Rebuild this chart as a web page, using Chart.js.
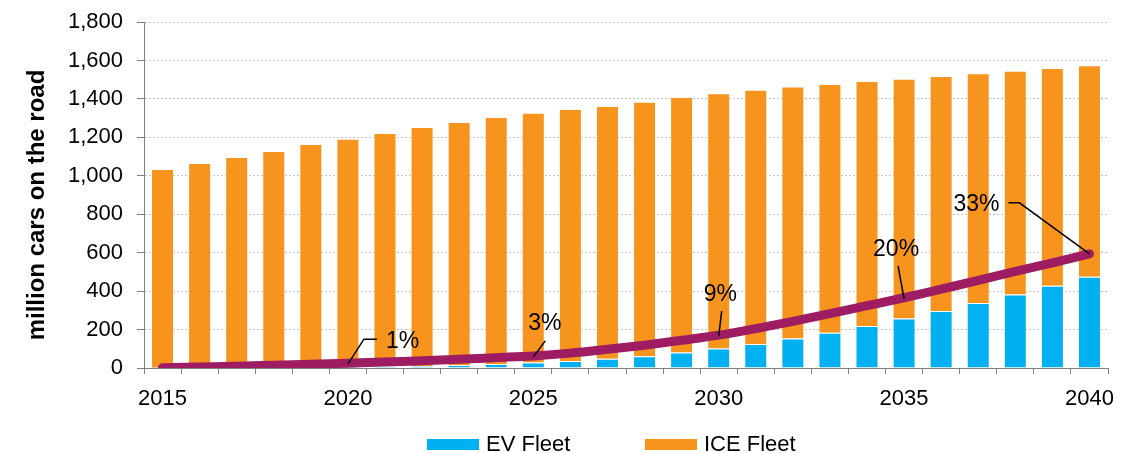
<!DOCTYPE html>
<html>
<head>
<meta charset="utf-8">
<script src="https://cdn.jsdelivr.net/npm/chart.js@4.4.0/dist/chart.umd.min.js"></script>
<style>
  html, body { margin:0; padding:0; background:#fff; }
  #wrap { position:relative; width:1135px; height:453px; }
  #legenda { position:absolute; left:0; top:431px; width:1135px; height:24px; }
  .item { position:absolute; top:0; display:flex; align-items:center; font:22px "Liberation Sans", Arial, sans-serif; color:#000; white-space:nowrap; }
  .caixa { display:inline-block; width:52px; height:11px; margin-right:7px; }
</style>
</head>
<body>
<div id="wrap">
  <canvas id="grafico" width="1135" height="453"></canvas>
  <div id="legenda"></div>
</div>
<script>
// ======= Dados =======
const anos = ["2015","2016","2017","2018","2019","2020","2021","2022","2023","2024","2025","2026","2027",
              "2028","2029","2030","2031","2032","2033","2034","2035","2036","2037","2038","2039","2040"];
const evFleet  = [1, 2, 3, 4, 5, 7, 9, 11, 15, 21, 28, 36, 48, 61, 80, 101, 125, 154, 184, 218, 257, 296, 338, 383, 428, 475];
const iceFleet = [1034, 1064, 1095, 1125, 1160, 1186, 1213, 1243, 1265, 1285, 1300, 1311, 1315, 1324, 1330, 1328,
                  1323, 1311, 1293, 1275, 1248, 1223, 1195, 1164, 1133, 1100];
// participação dos EV na frota (%)
const evShare  = [0.1, 0.3, 0.5, 0.8, 1.1, 1.4, 1.7, 2.1, 2.5, 3.0, 3.5, 4.3, 5.4, 6.6, 8.0, 9.5,
                  11.4, 13.5, 15.7, 18.0, 20.3, 22.8, 25.3, 27.9, 30.4, 33.0];
const rotulosAnos  = ["2020", "2025", "2030", "2035", "2040"];
const rotulosTexto = ["1%", "3%", "9%", "20%", "33%"];
const yTicks = [0, 200, 400, 600, 800, 1000, 1200, 1400, 1600, 1800];
const tituloY = "million cars on the road";

const fonte = '"Liberation Sans", Arial, sans-serif';

// ======= Linhas de chamada dos rótulos =======
const guias = {
  "2020": { linha: [[0, 1], [16, -24], [29, -24]], tx: 38, ty: -21, alinhar: "left" },
  "2025": { linha: [[0, 1], [12, -15]], tx: -5, ty: -32, alinhar: "left" },
  "2030": { linha: [[0, 1], [3, -24]], tx: -15, ty: -40, alinhar: "left" },
  "2035": { linha: [[0, 1], [-6, -32]], tx: -31, ty: -48, alinhar: "left" },
  "2040": { linha: [[0, 0], [-70, -51], [-81, -51]], tx: -90, ty: -49, alinhar: "right" }
};

const rotulosPlugin = {
  id: "rotulosShare",
  afterDatasetsDraw(chart) {
    const ctx = chart.ctx;
    const meta = chart.getDatasetMeta(2);
    ctx.save();
    ctx.strokeStyle = "#000";
    ctx.lineWidth = 1.5;
    ctx.fillStyle = "#000";
    ctx.font = "23px " + fonte;
    ctx.textBaseline = "middle";
    rotulosAnos.forEach((ano, i) => {
      const idx = anos.indexOf(ano);
      const p = meta.data[idx];
      const g = guias[ano];
      ctx.beginPath();
      g.linha.forEach((o, k) => {
        if (k === 0) ctx.moveTo(p.x + o[0], p.y + o[1]);
        else ctx.lineTo(p.x + o[0], p.y + o[1]);
      });
      ctx.stroke();
      ctx.textAlign = g.alinhar;
      ctx.fillText(rotulosTexto[i], p.x + g.tx, p.y + g.ty);
    });
    ctx.restore();
  }
};

// titulo do eixo y, um pouco abaixo do centro como no original
const tituloPlugin = {
  id: "tituloEixoY",
  afterDraw(chart) {
    const ctx = chart.ctx;
    ctx.save();
    ctx.translate(37, 205);
    ctx.rotate(-Math.PI / 2);
    ctx.font = "bold 24px " + fonte;
    ctx.fillStyle = "#000";
    ctx.textAlign = "center";
    ctx.textBaseline = "middle";
    ctx.fillText(tituloY, 0, 0);
    ctx.restore();
  }
};

// ======= Gráfico =======
const ctx = document.getElementById("grafico").getContext("2d");
const grafico = new Chart(ctx, {
  type: "bar",
  data: {
    labels: anos,
    datasets: [
      { label: "EV Fleet", data: evFleet, backgroundColor: "#00B0F0", borderColor: "rgba(255,255,255,0.35)", borderWidth: 1,
        barPercentage: 0.62, categoryPercentage: 1, order: 2 },
      { label: "ICE Fleet", data: iceFleet, backgroundColor: "#F7941E", borderColor: "rgba(255,255,255,0.35)", borderWidth: 1,
        barPercentage: 0.62, categoryPercentage: 1, order: 2 },
      { type: "line", label: "EV share", data: evShare, yAxisID: "y1", borderColor: "#9E1C62", borderWidth: 9,
        borderCapStyle: "round", pointRadius: 0, cubicInterpolationMode: "monotone", fill: false, order: 0 }
    ]
  },
  options: {
    responsive: false,
    animation: false,
    layout: { padding: { top: 22, right: 27, bottom: 0, left: 0 } },
    plugins: { legend: { display: false }, tooltip: { enabled: false } },
    scales: {
      x: {
        stacked: true,
        offset: true,
        afterFit: s => { s.height = 85; },
        border: { color: "#808080", width: 1 },
        grid: { offset: true, drawOnChartArea: false, drawTicks: true, tickLength: 6, tickColor: "#808080" },
        ticks: {
          autoSkip: false, maxRotation: 0, padding: 12, color: "#000",
          font: { family: fonte, size: 22 },
          callback: (v, i) => (Number(anos[i]) % 5 === 0 ? anos[i] : "")
        }
      },
      y: {
        stacked: true,
        min: 0, max: 1800,
        afterFit: s => { s.width = 144; s.paddingTop = 0; s.paddingBottom = 0; },
        afterBuildTicks: s => { s.ticks = yTicks.map(v => ({ value: v })); },
        border: { color: "#808080", width: 1, dash: [2, 2] },
        grid: { color: "#C4C4C4", tickColor: "#808080", tickLength: 7 },
        ticks: {
          padding: 14, color: "#000",
          font: { family: fonte, size: 22 },
          callback: v => v.toLocaleString("en-US")
        }
      },
      y1: { display: false, min: 0, max: 100 }
    }
  },
  plugins: [rotulosPlugin, tituloPlugin]
});

// ======= Legenda =======
const legenda = document.getElementById("legenda");
const posLegenda = [427, 645];
grafico.data.datasets.slice(0, 2).forEach((ds, i) => {
  const div = document.createElement("div");
  div.className = "item";
  div.style.left = posLegenda[i] + "px";
  div.innerHTML = `<span class="caixa" style="background:${ds.backgroundColor}"></span>${ds.label}`;
  legenda.appendChild(div);
});
</script>
</body>
</html>
